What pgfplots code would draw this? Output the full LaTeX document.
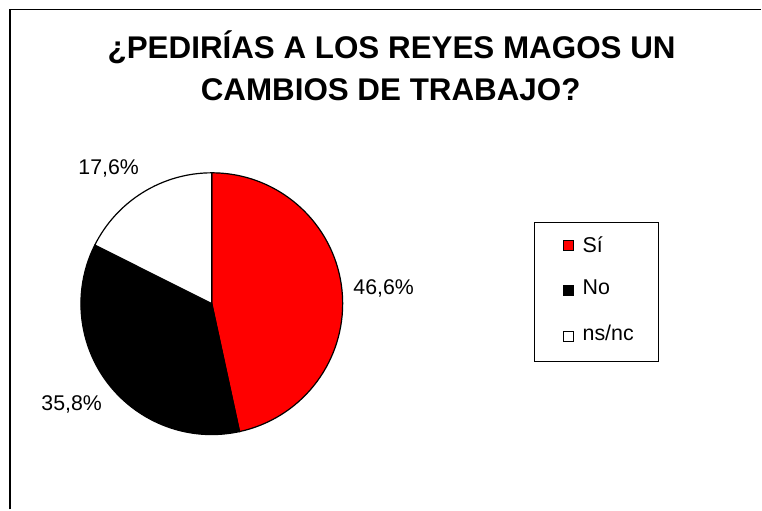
\documentclass[border=0pt]{standalone}
\usepackage{pgfplots}
\pgfplotsset{compat=1.18}
\usepackage{pgfplotstable}
\usepackage{fontspec}
\setmainfont{Liberation Sans}
\usepackage{graphicx}

\pgfplotstableread{
label value
Si 46.6
No 35.8
nsnc 17.6
}\piedata

\begin{document}
\begin{tikzpicture}
\pgfplotstablegetelem{0}{value}\of\piedata \let\vA\pgfplotsretval
\pgfplotstablegetelem{1}{value}\of\piedata \let\vB\pgfplotsretval
\pgfplotstablegetelem{2}{value}\of\piedata \let\vC\pgfplotsretval
\pgfmathsetmacro\aA{90}
\pgfmathsetmacro\aB{\aA-3.6*\vA}
\pgfmathsetmacro\aC{\aB-3.6*\vB}
\pgfmathsetmacro\aD{\aC-3.6*\vC}
\begin{axis}[scale only axis, width=762bp, height=510bp,
  xmin=0, xmax=762, ymin=0, ymax=510, hide axis, clip=false]
\fill[white] (axis cs:0,0) rectangle (axis cs:762,510);
\draw[line width=1.5bp] (axis cs:10,0) -- (axis cs:10,500.5) -- (axis cs:762,500.5);
% title
\node[anchor=base, font=\bfseries\fontsize{31.5}{36}\selectfont, inner sep=0pt] at (axis cs:392,451.7) {¿PEDIRÍAS A LOS REYES MAGOS UN};
\node[anchor=base, font=\bfseries\fontsize{31.5}{36}\selectfont, inner sep=0pt] at (axis cs:391,409) {CAMBIOS DE TRABAJO?};
% pie
\filldraw[fill=red, draw=black, line width=1.2bp] (axis cs:212,206) -- ++(\aA:131bp) arc[start angle=\aA, end angle=\aB, radius=131bp] -- cycle;
\filldraw[fill=black, draw=black, line width=1.2bp] (axis cs:212,206) -- ++(\aB:131bp) arc[start angle=\aB, end angle=\aC, radius=131bp] -- cycle;
\filldraw[fill=white, draw=black, line width=1.2bp] (axis cs:212,206) -- ++(\aC:131bp) arc[start angle=\aC, end angle=\aD, radius=131bp] -- cycle;
% labels
\node[anchor=base, font=\fontsize{21.4}{25}\selectfont, inner sep=0pt] at (axis cs:384,215.3) {46,6\%};
\node[anchor=base, font=\fontsize{21.4}{25}\selectfont, inner sep=0pt] at (axis cs:108.8,335) {17,6\%};
\node[anchor=base, font=\fontsize{21.4}{25}\selectfont, inner sep=0pt] at (axis cs:71.7,99.3) {35,8\%};
% legend
\draw[line width=1bp] (axis cs:535,148) rectangle (axis cs:659,287);
\filldraw[fill=red, draw=black, line width=0.9bp] (axis cs:564,259.3) rectangle (axis cs:574,269.3);
\filldraw[fill=black, draw=black, line width=0.9bp] (axis cs:564,214) rectangle (axis cs:574,224);
\filldraw[fill=white, draw=black, line width=0.9bp] (axis cs:564,168.3) rectangle (axis cs:574,178.3);
\node[anchor=base west, font=\fontsize{21.5}{25}\selectfont, inner sep=0pt] at (axis cs:583,257.3) {Sí};
\node[anchor=base west, font=\fontsize{21.5}{25}\selectfont, inner sep=0pt] at (axis cs:583,215) {No};
\node[anchor=base west, font=\fontsize{21.5}{25}\selectfont, inner sep=0pt] at (axis cs:583,169.3) {ns/nc};
\end{axis}
\end{tikzpicture}
\end{document}
